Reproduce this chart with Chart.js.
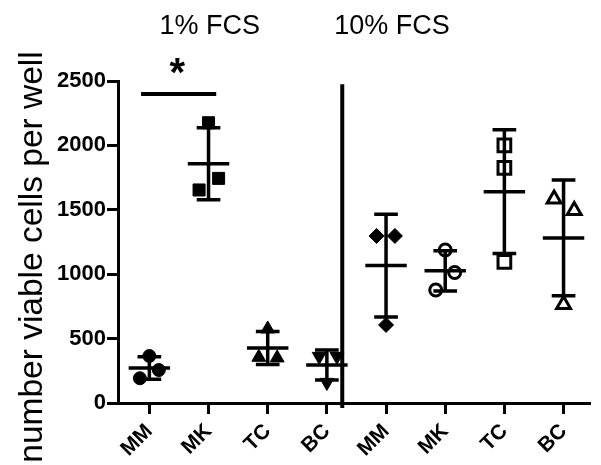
<!DOCTYPE html>
<html>
<head>
<meta charset="utf-8">
<script src="https://cdn.jsdelivr.net/npm/chart.js@4.4.0/dist/chart.umd.min.js"></script>
<style>
	html, body { margin: 0; padding: 0; background: #fff; }
	#caixa { position: relative; width: 601px; height: 465px; }
</style>
</head>
<body>
<div id="caixa"><canvas id="graficoViabilidade"></canvas></div>
<script>
var categorias = ['MM', 'MK', 'TC', 'BC', 'MM', 'MK', 'TC', 'BC'];
var titulosGrupo = ['1% FCS', '10% FCS'];
var ticksY = [0, 500, 1000, 1500, 2000, 2500];

// celulas viaveis por poco (3 replicas por condicao)
var mm1 = [192, 256, 365];
var mk1 = [2176, 1744, 1654];
var tc1 = [575, 355, 350];
var bc1 = [362, 362, 160];
var mm10 = [1297, 1297, 606];
var mk10 = [1188, 1013, 877];
var tc10 = [2001, 1825, 1095];
var bc10 = [1584, 1495, 765];

// deslocamento horizontal das replicas (em unidades de categoria)
var espalhamento = [
	[-0.16, 0.16, 0],
	[0, 0.17, -0.16],
	[0, -0.15, 0.16],
	[-0.13, 0.17, 0],
	[-0.16, 0.15, 0],
	[0, 0.16, -0.16],
	[0, 0, 0],
	[-0.16, 0.18, 0]
];

var Grafico = Grafico || {};

Grafico.Viabilidade = (function() {

	var FONTE = '"Liberation Sans", Arial, sans-serif';

	function Viabilidade() {
		this.ctx = document.getElementById('graficoViabilidade').getContext('2d');
	}

	function montarPontos(valores, indice) {
		return valores.map(function(v, j) {
			return { x: indice + espalhamento[indice][j], y: v };
		});
	}

	function serie(valores, indice, estilo, vazio, raio, rotacao) {
		return {
			data: montarPontos(valores, indice),
			pointStyle: estilo,
			pointRotation: rotacao || 0,
			pointRadius: raio,
			pointBackgroundColor: vazio ? '#fff' : '#000',
			pointBorderColor: '#000',
			pointBorderWidth: vazio ? 3 : 1,
			showLine: false
		};
	}

	function media(valores) {
		return valores.reduce(function(a, b) { return a + b; }, 0) / valores.length;
	}

	function desvio(valores) {
		var m = media(valores);
		var soma = valores.reduce(function(a, v) { return a + (v - m) * (v - m); }, 0);
		return Math.sqrt(soma / (valores.length - 1));
	}

	var extras = {
		id: 'extras',
		afterDatasetsDraw: function(chart) {
			var ctx = chart.ctx;
			var x = chart.scales.x;
			var y = chart.scales.y;
			ctx.save();
			ctx.strokeStyle = '#000';
			ctx.fillStyle = '#000';
			ctx.lineCap = 'butt';

			// media +- DP
			chart.data.datasets.forEach(function(ds, i) {
				var valores = ds.data.map(function(p) { return p.y; });
				var m = media(valores);
				var dp = desvio(valores);
				var cx = x.getPixelForValue(i);
				var yTopo = y.getPixelForValue(m + dp);
				var yBase = y.getPixelForValue(m - dp);
				var yMedia = y.getPixelForValue(m);
				var meiaMedia = x.getPixelForValue(i + 0.35) - cx;
				var meiaCap = x.getPixelForValue(i + 0.2) - cx;
				ctx.lineWidth = 3.5;
				ctx.beginPath();
				ctx.moveTo(cx, yTopo);
				ctx.lineTo(cx, yBase);
				ctx.moveTo(cx - meiaCap, yTopo);
				ctx.lineTo(cx + meiaCap, yTopo);
				ctx.moveTo(cx - meiaCap, yBase);
				ctx.lineTo(cx + meiaCap, yBase);
				ctx.moveTo(cx - meiaMedia, yMedia);
				ctx.lineTo(cx + meiaMedia, yMedia);
				ctx.stroke();
			});

			// divisoria entre 1% e 10%
			var xDiv = x.getPixelForValue(3.26);
			ctx.lineWidth = 4;
			ctx.beginPath();
			ctx.moveTo(xDiv, y.getPixelForValue(2475));
			ctx.lineTo(xDiv, y.bottom + 5);
			ctx.stroke();

			// barra de significancia MM x MK
			var ySig = y.getPixelForValue(2400);
			ctx.lineWidth = 4;
			ctx.beginPath();
			ctx.moveTo(x.getPixelForValue(-0.14), ySig);
			ctx.lineTo(x.getPixelForValue(1.13), ySig);
			ctx.stroke();
			ctx.font = 'bold 40px ' + FONTE;
			ctx.textAlign = 'center';
			ctx.textBaseline = 'alphabetic';
			ctx.fillText('*', x.getPixelForValue(0.47), 86);

			// titulos dos grupos
			ctx.font = '27px ' + FONTE;
			ctx.fillText(titulosGrupo[0], x.getPixelForValue(1.02), 34);
			ctx.fillText(titulosGrupo[1], x.getPixelForValue(4.1), 34);

			// titulo do eixo y
			ctx.font = '33.5px ' + FONTE;
			ctx.translate(42, 257);
			ctx.rotate(-Math.PI / 2);
			ctx.fillText('number viable cells per well', 0, 0);
			ctx.restore();
		}
	};

	Viabilidade.prototype.iniciar = function() {
		var eixo = { color: '#000', width: 3 };
		var marcas = { display: true, drawOnChartArea: false, drawTicks: true, tickLength: 11, color: '#000', lineWidth: 3 };

		this.grafico = new Chart(this.ctx, {
			type: 'scatter',
			data: {
				datasets: [
					serie(mm1, 0, 'circle', false, 6.5),
					serie(mk1, 1, 'rect', false, 8.5),
					serie(tc1, 2, 'triangle', false, 8),
					serie(bc1, 3, 'triangle', false, 8, 180),
					serie(mm10, 4, 'rectRot', false, 7.5),
					serie(mk10, 5, 'circle', true, 6),
					serie(tc10, 6, 'rect', true, 9),
					serie(bc10, 7, 'triangle', true, 8)
				]
			},
			options: {
				responsive: true,
				maintainAspectRatio: false,
				animation: false,
				events: [],
				layout: { padding: { top: 81, right: 0, bottom: 0, left: 0 } },
				plugins: {
					legend: { display: false },
					tooltip: { enabled: false }
				},
				scales: {
					x: {
						type: 'linear',
						min: -0.53,
						max: 7.43,
						afterBuildTicks: function(axis) {
							axis.ticks = categorias.map(function(c, i) { return { value: i }; });
						},
						afterFit: function(axis) { axis.height = 62; },
						border: eixo,
						grid: marcas,
						ticks: {
							color: '#000',
							font: { family: FONTE, size: 21, weight: 'bold' },
							minRotation: 45,
							maxRotation: 45,
							autoSkip: false,
							padding: 5,
							callback: function(v) { return categorias[v]; }
						}
					},
					y: {
						min: 0,
						max: 2500,
						afterBuildTicks: function(axis) {
							axis.ticks = ticksY.map(function(v) { return { value: v }; });
						},
						afterFit: function(axis) { axis.width = 118; },
						border: eixo,
						grid: marcas,
						ticks: {
							color: '#000',
							font: { family: FONTE, size: 22, weight: 'bold' },
							padding: 1,
							callback: function(v) { return String(v); }
						}
					}
				}
			},
			plugins: [extras]
		});
	};

	return Viabilidade;

}());

var graficoViabilidade = new Grafico.Viabilidade();
graficoViabilidade.iniciar();
</script>
</body>
</html>
